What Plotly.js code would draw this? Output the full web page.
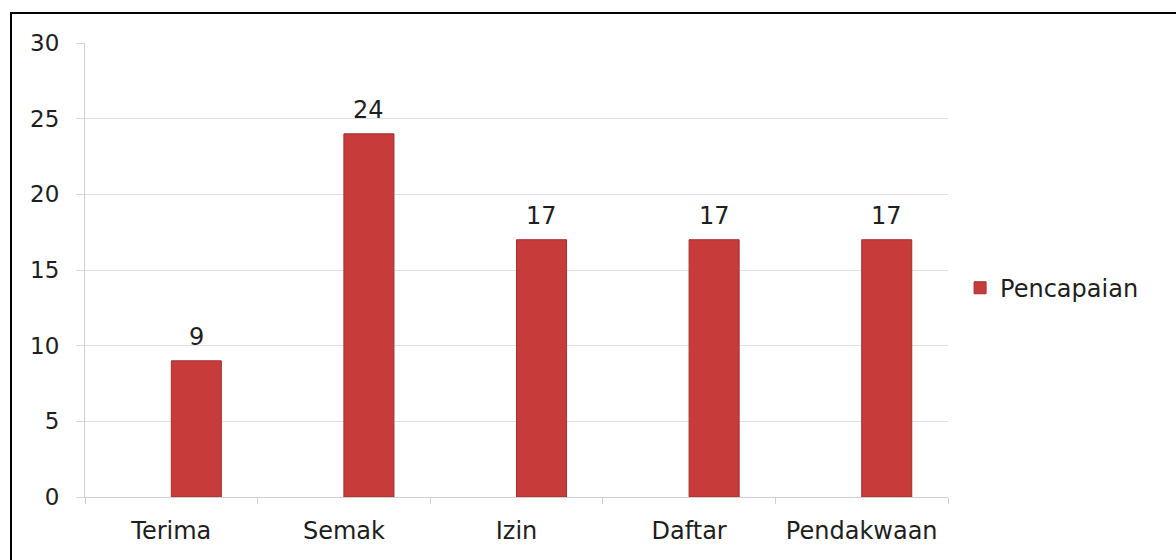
<!DOCTYPE html>
<html>
<head>
<meta charset="utf-8">
<script src="https://cdn.plot.ly/plotly-3.0.1.min.js"></script>
<style>
html,body{margin:0;padding:0;background:#fff;}
#wrap{position:relative;width:1176px;height:560px;}
#frame{position:absolute;left:10px;top:12px;width:1166px;height:548px;border-top:2px solid #000;border-left:2px solid #000;box-sizing:border-box;pointer-events:none;z-index:5;}
#chart{position:absolute;left:0;top:0;width:1176px;height:560px;}
</style>
</head>
<body>
<div id="wrap">
<div id="chart"></div>
<div id="frame"></div>
</div>
<script>
const categories = ["Terima", "Semak", "Izin", "Daftar", "Pendakwaan"];
const values = [9, 24, 17, 17, 17];
const seriesName = "Pencapaian";
const yTicks = [0, 5, 10, 15, 20, 25, 30];

const barWidth = 0.29;
const barOffset = 0.0;
const fontFam = "DejaVu Sans, Open Sans, sans-serif";
const fSize = 24;
const yFSize = 23;
const txtColor = "#1e1e1e";

const trace = {
  type: "bar",
  x: categories,
  y: values,
  name: seriesName,
  width: barWidth,
  offset: barOffset,
  marker: {color: "#c73b3b", line: {color: "#a52f2f", width: 1}},
  showlegend: true
};

const annotations = values.map((v, i) => ({
  x: i + barOffset + barWidth / 2,
  y: v,
  xref: "x", yref: "y",
  text: String(v),
  showarrow: false,
  yanchor: "bottom",
  yshift: 8,
  font: {family: fontFam, size: fSize, color: txtColor}
}));

const layout = {
  width: 1176, height: 560,
  margin: {l: 85, r: 228, t: 43, b: 63},
  paper_bgcolor: "#fff",
  plot_bgcolor: "#fff",
  font: {family: fontFam, size: fSize, color: txtColor},
  showlegend: true,
  legend: {x: 1.014, y: 0.46, xanchor: "left", yanchor: "middle",
           font: {size: fSize, color: txtColor}, itemwidth: 30},
  xaxis: {
    showgrid: false, showline: true, linecolor: "#d0d0d0", linewidth: 1,
    ticks: "outside", tickson: "boundaries", ticklen: 6, tickcolor: "#d0d0d0",
    tickfont: {size: fSize, color: txtColor}, ticklabelstandoff: 12, fixedrange: true
  },
  yaxis: {
    range: [0, 30], tickvals: yTicks, ticktext: yTicks.map(String),
    showgrid: true, gridcolor: "#e0e0e0", gridwidth: 1,
    showline: true, linecolor: "#d0d0d0", linewidth: 1,
    ticks: "outside", ticklen: 8, tickcolor: "#d8d8d8",
    zeroline: false, tickfont: {size: yFSize, color: txtColor},
    ticklabelstandoff: 12, fixedrange: true
  },
  annotations: annotations
};

Plotly.newPlot("chart", [trace], layout, {displayModeBar: false, staticPlot: true});
</script>
</body>
</html>
